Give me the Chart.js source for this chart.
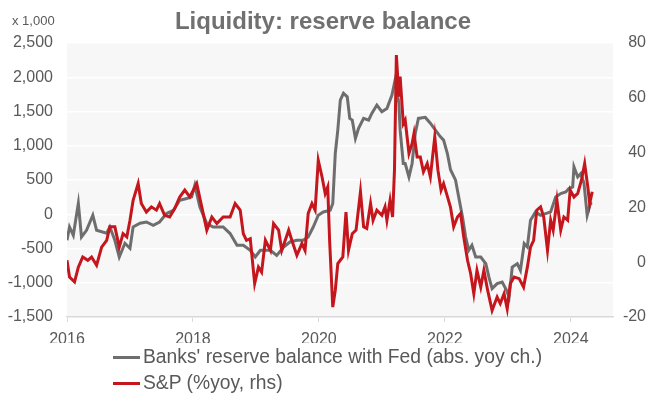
<!DOCTYPE html>
<html>
<head>
<meta charset="utf-8">
<script src="https://cdn.jsdelivr.net/npm/chart.js@4.4.1/dist/chart.umd.min.js"></script>
<style>
  body { margin: 0; background: #fff; }
  #wrap { position: relative; width: 651px; height: 401px; font-family: 'Liberation Sans', Arial, sans-serif; }
  #legend { position: absolute; left: 113px; top: 344px; color: #595959; font-size: 19.3px; }
  .legend-row { display: flex; align-items: center; height: 26px; white-space: nowrap; }
  .legend-line { width: 27px; height: 3px; margin-right: 3px; }
</style>
</head>
<body>
<div id="wrap">
  <canvas id="liquidityChart" width="651" height="401"></canvas>
  <div id="legend"></div>
</div>
<script>
'use strict';
//=================Data===================//
var seriesNames = ["Banks' reserve balance with Fed (abs. yoy ch.)", 'S&P (%yoy, rhs)'];
var yearTicks = [2016, 2018, 2020, 2022, 2024];

// reserve balance, abs. yoy change (x 1,000)
var reserveDates = [2016.00, 2016.04, 2016.10, 2016.18, 2016.23, 2016.31, 2016.41, 2016.47, 2016.63, 2016.68,
  2016.76, 2016.83, 2016.92, 2017.00, 2017.05, 2017.16, 2017.26, 2017.37, 2017.47, 2017.58,
  2017.69, 2017.79, 2017.90, 2017.98, 2018.03, 2018.11, 2018.22, 2018.32, 2018.48, 2018.59,
  2018.70, 2018.80, 2018.91, 2018.99, 2019.07, 2019.12, 2019.23, 2019.33, 2019.44, 2019.54,
  2019.65, 2019.75, 2019.83, 2019.91, 2019.99, 2020.07, 2020.18, 2020.22, 2020.26, 2020.30,
  2020.34, 2020.39, 2020.45, 2020.49, 2020.53, 2020.58, 2020.63, 2020.71, 2020.79, 2020.84,
  2020.92, 2021.00, 2021.08, 2021.16, 2021.21, 2021.27, 2021.29, 2021.34, 2021.37, 2021.43,
  2021.48, 2021.53, 2021.58, 2021.69, 2021.77, 2021.85, 2021.93, 2021.98, 2022.04, 2022.09,
  2022.17, 2022.22, 2022.28, 2022.33, 2022.38, 2022.43, 2022.49, 2022.57, 2022.65, 2022.70,
  2022.75, 2022.83, 2022.91, 2022.98, 2023.02, 2023.07, 2023.15, 2023.20, 2023.26, 2023.31,
  2023.36, 2023.44, 2023.52, 2023.60, 2023.68, 2023.76, 2023.84, 2023.92, 2023.97, 2024.03,
  2024.05, 2024.11, 2024.16, 2024.21, 2024.26, 2024.31, 2024.34];
var reserveValues = [-380, -186, -307, 161, -332, -234, -15, -234, -278, -186,
  -380, -624, -424, -497, -186, -132, -113, -161, -113, 10,
  58, 205, 230, 253, 424, 107, -136, -186, -186, -282,
  -453, -453, -526, -624, -526, -526, -526, -600, -478, -405,
  -380, -380, -332, -186, -15, 34, 58, 156, 887, 1228,
  1667, 1765, 1715, 1399, 1374, 1107, 1253, 1399, 1374, 1472,
  1594, 1496, 1545, 1740, 1959, 1619, 1228, 741, 741, 545,
  741, 1180, 1399, 1414, 1330, 1228, 1130, 1082, 887, 650,
  497, 253, -39, -332, -526, -453, -624, -624, -721, -917,
  -1086, -1013, -989, -1111, -1209, -770, -721, -819, -429, -478,
  -88, 34, -15, 10, 34, 253, 302, 326, 375, 399,
  692, 545, 595, 448, -15, 156, 156];

// S&P 500, % yoy (rhs)
var spDates = [2016.00, 2016.04, 2016.12, 2016.18, 2016.25, 2016.33, 2016.39, 2016.47, 2016.55, 2016.63,
  2016.68, 2016.76, 2016.83, 2016.89, 2016.95, 2017.00, 2017.05, 2017.13, 2017.18, 2017.26,
  2017.34, 2017.42, 2017.47, 2017.55, 2017.63, 2017.71, 2017.79, 2017.87, 2017.95, 2018.06,
  2018.14, 2018.22, 2018.30, 2018.38, 2018.48, 2018.59, 2018.67, 2018.75, 2018.80, 2018.85,
  2018.91, 2018.98, 2019.04, 2019.09, 2019.15, 2019.23, 2019.28, 2019.36, 2019.41, 2019.52,
  2019.57, 2019.65, 2019.73, 2019.78, 2019.83, 2019.89, 2019.94, 2019.99, 2020.05, 2020.10,
  2020.14, 2020.17, 2020.22, 2020.26, 2020.30, 2020.34, 2020.38, 2020.43, 2020.47, 2020.53,
  2020.59, 2020.66, 2020.71, 2020.76, 2020.82, 2020.86, 2020.92, 2021.00, 2021.05, 2021.08,
  2021.13, 2021.17, 2021.20, 2021.23, 2021.27, 2021.29, 2021.34, 2021.37, 2021.43, 2021.48,
  2021.51, 2021.56, 2021.61, 2021.66, 2021.72, 2021.77, 2021.84, 2021.89, 2021.94, 2021.98,
  2022.04, 2022.09, 2022.14, 2022.20, 2022.25, 2022.30, 2022.36, 2022.41, 2022.46, 2022.51,
  2022.57, 2022.62, 2022.68, 2022.75, 2022.83, 2022.88, 2022.94, 2022.99, 2023.04, 2023.10,
  2023.18, 2023.25, 2023.31, 2023.36, 2023.41, 2023.46, 2023.52, 2023.57, 2023.63, 2023.68,
  2023.72, 2023.78, 2023.84, 2023.89, 2023.95, 2023.99, 2024.05, 2024.11, 2024.17, 2024.22,
  2024.27, 2024.30, 2024.34];
var spValues = [0.7, -5.4, -7.2, -1.8, 1.9, 0.7, 1.9, -1.1, 5.5, 8.0,
  12.9, 12.9, 5.5, 10.4, 9.2, 15.3, 22.6, 28.7, 21.4, 18.3,
  20.2, 19.0, 21.4, 17.1, 16.5, 19.6, 23.8, 26.3, 23.8, 28.7,
  20.2, 11.7, 16.5, 14.1, 16.5, 16.5, 21.4, 19.0, 10.4, 8.0,
  8.6, -7.8, -1.8, -3.6, 8.0, 4.3, 14.1, 11.7, 4.3, 11.7,
  8.0, 2.5, 6.8, 4.3, 17.8, 21.4, 19.0, 37.2, 31.1, 25.1,
  27.5, 8.0, -16.4, -10.3, -0.5, 0.7, 1.9, 18.3, 4.3, 10.4,
  11.7, 25.7, 12.9, 12.3, 21.4, 15.3, 19.0, 17.1, 20.2, 15.3,
  22.6, 16.5, 33.6, 75.6, 60.4, 67.7, 50.6, 51.9, 39.7, 43.3,
  47.0, 38.4, 38.4, 33.0, 36.0, 31.1, 45.8, 33.6, 26.3, 28.7,
  24.0, 20.0, 12.9, 16.5, 17.8, 9.2, 0.7, -4.2, -11.5, -3.0,
  -9.1, -3.0, -10.3, -17.6, -12.7, -15.1, -11.5, -17.0, -7.8, -5.4,
  -6.0, -9.1, -1.8, 5.5, 8.0, 19.0, 20.2, 16.5, 4.3, 15.3,
  11.7, 22.6, 11.7, 16.5, 15.3, 26.3, 23.8, 25.1, 30.0, 36.0,
  27.5, 21.4, 25.7];

//=================Helpers=================//
function toPoints(dates, values){
  var points = [];
  for(var i = 0; i < dates.length; i++){
    points.push({x: dates[i], y: values[i]});
  }
  return points;
}

var fontFamily = "'Liberation Sans', Arial, sans-serif";
var textGray = '#595959';
var grayLine = '#6e6e6e';
var redLine = '#c4161c';

// grey panel behind the lines + the "x 1,000" unit note
var plotBackground = {
  id: 'plotBackground',
  beforeDraw: function(chart){
    var ctx = chart.ctx;
    var area = chart.chartArea;
    ctx.save();
    ctx.fillStyle = '#f7f7f7';
    ctx.fillRect(area.left, area.top, area.right - area.left, area.bottom - area.top);
    ctx.restore();
  },
  afterDraw: function(chart){
    var ctx = chart.ctx;
    ctx.save();
    ctx.fillStyle = textGray;
    ctx.font = '13px ' + fontFamily;
    ctx.textBaseline = 'middle';
    ctx.fillText('x 1,000', 12, 21);
    ctx.restore();
  }
};

//===================Chart===================//
var ctx = document.getElementById('liquidityChart').getContext('2d');
var liquidityChart = new Chart(ctx, {
  type: 'line',
  data: {
    datasets: [{
      label: seriesNames[0],
      data: toPoints(reserveDates, reserveValues),
      yAxisID: 'y',
      borderColor: grayLine,
      backgroundColor: grayLine,
      borderWidth: 3,
      pointRadius: 0,
      tension: 0,
      order: 1
    }, {
      label: seriesNames[1],
      data: toPoints(spDates, spValues),
      yAxisID: 'y1',
      borderColor: redLine,
      backgroundColor: redLine,
      borderWidth: 3,
      pointRadius: 0,
      tension: 0,
      order: 0
    }]
  },
  options: {
    responsive: false,
    animation: false,
    devicePixelRatio: 1,
    layout: {padding: {left: 0, right: 5, top: 0, bottom: 58}},
    plugins: {
      legend: {display: false},
      tooltip: {enabled: false},
      title: {
        display: true,
        text: 'Liquidity: reserve balance',
        color: '#707070',
        font: {family: fontFamily, size: 24, weight: 'bold'},
        padding: {top: 8, bottom: 6.2}
      }
    },
    scales: {
      x: {
        type: 'linear',
        min: 2016,
        max: 2024.67,
        afterBuildTicks: function(scale){
          scale.ticks = yearTicks.map(function(v){ return {value: v}; });
        },
        afterFit: function(scale){ scale.height = 26; },
        ticks: {
          color: textGray,
          font: {family: fontFamily, size: 16},
          padding: 8,
          maxRotation: 0,
          callback: function(value){ return String(value); }
        },
        grid: {drawOnChartArea: false, drawTicks: true, tickLength: 5, color: '#d9d9d9'},
        border: {display: true, color: '#d9d9d9', width: 1.5}
      },
      y: {
        position: 'left',
        min: -1500,
        max: 2500,
        afterFit: function(scale){ scale.width = 67; },
        ticks: {
          stepSize: 500,
          color: textGray,
          font: {family: fontFamily, size: 16},
          padding: 14,
          callback: function(value){ return value.toLocaleString('en-US'); }
        },
        grid: {color: '#ffffff', lineWidth: 1.5, drawTicks: false},
        border: {display: false}
      },
      y1: {
        position: 'right',
        min: -20,
        max: 80,
        afterFit: function(scale){ scale.width = 33; },
        ticks: {
          stepSize: 20,
          color: textGray,
          font: {family: fontFamily, size: 16},
          crossAlign: 'far'
        },
        grid: {drawOnChartArea: false, drawTicks: false},
        border: {display: false}
      }
    }
  },
  plugins: [plotBackground]
});

// legend rows underneath, one series per row
var legendBox = document.getElementById('legend');
liquidityChart.data.datasets.forEach(function(ds){
  var row = document.createElement('div');
  row.className = 'legend-row';
  var line = document.createElement('span');
  line.className = 'legend-line';
  line.style.background = ds.borderColor;
  var label = document.createElement('span');
  label.textContent = ds.label;
  row.appendChild(line);
  row.appendChild(label);
  legendBox.appendChild(row);
});
</script>
</body>
</html>
